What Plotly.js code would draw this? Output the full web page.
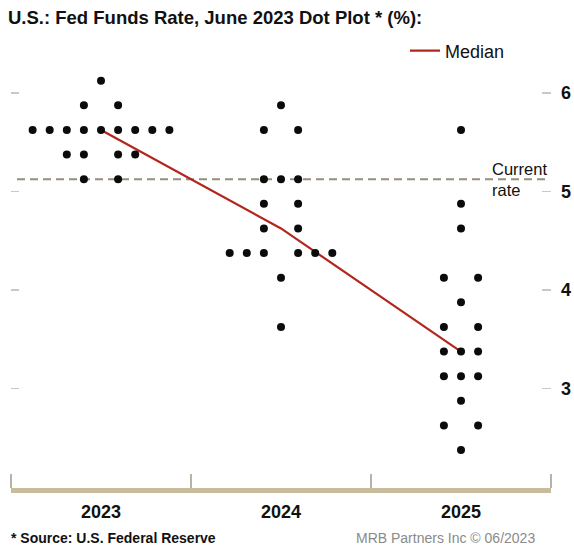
<!DOCTYPE html>
<html>
<head>
<meta charset="utf-8">
<script src="https://cdn.plot.ly/plotly-3.0.1.min.js"></script>
<style>html,body{margin:0;padding:0;background:#fff;}#chart{width:574px;height:548px;}</style>
</head>
<body>
<div id="chart"></div>
<script>
// ---- Data ----
const years = ['2023', '2024', '2025'];
// dot-plot levels (%) and number of FOMC participants at each level
const rates2023 = [6.125, 5.875, 5.625, 5.375, 5.125];
const counts2023 = [1, 2, 9, 4, 2];
const rates2024 = [5.875, 5.625, 5.125, 4.875, 4.625, 4.375, 4.125, 3.625];
const counts2024 = [1, 2, 3, 2, 2, 6, 1, 1];
const rates2025 = [5.625, 4.875, 4.625, 4.125, 3.875, 3.625, 3.375, 3.125, 2.875, 2.625, 2.375];
const counts2025 = [1, 1, 1, 2, 1, 2, 3, 3, 1, 2, 1];
const medians = [5.625, 4.625, 3.375];
const currentRate = 5.125;
const yTicks = [3, 4, 5, 6];

// ---- Build dot positions (odd counts centred, even counts split around centre) ----
const DOT_STEP = 0.095;
const dotX = [], dotY = [];
[[rates2023, counts2023], [rates2024, counts2024], [rates2025, counts2025]].forEach(([rates, counts], yi) => {
  rates.forEach((r, i) => {
    const n = counts[i];
    let offs = [];
    if (n % 2 === 1) { for (let k = -(n - 1) / 2; k <= (n - 1) / 2; k++) offs.push(k); }
    else { for (let k = 1; k <= n / 2; k++) { offs.push(-k); offs.push(k); } }
    offs.forEach(o => { dotX.push(yi + o * DOT_STEP); dotY.push(r); });
  });
});

const FONT = '"Liberation Sans", Arial, sans-serif';
const idx = years.map((_, i) => i);
const W = 574, H = 548, L = 11, R = 23, T = 60, B = 60;
const PW = W - L - R, PH = H - T - B;
const YR = [1.99, 6.335];

const traces = [
  {
    x: idx, y: medians, type: 'scatter', mode: 'lines', name: 'Median',
    line: {color: '#b3261e', width: 2.2}, showlegend: true
  },
  {
    x: dotX, y: dotY, type: 'scatter', mode: 'markers', name: 'Participants',
    marker: {color: '#0b0b0b', size: 8}, showlegend: false, hoverinfo: 'y'
  },
  {
    x: [idx[0]], y: [currentRate], yaxis: 'y2', type: 'scatter', mode: 'markers',
    marker: {opacity: 0}, showlegend: false, hoverinfo: 'skip'
  }
];

const layout = {
  width: W, height: H,
  margin: {l: L, r: R, t: T, b: B},
  paper_bgcolor: '#ffffff', plot_bgcolor: '#ffffff',
  font: {family: FONT, color: '#111'},
  title: {
    text: 'U.S.: Fed Funds Rate, June 2023 Dot Plot * (%):',
    x: 8 / W, xref: 'container', xanchor: 'left',
    y: 1 - 18 / H, yref: 'container', yanchor: 'middle',
    font: {family: FONT, size: 18.5, color: '#111', weight: 'bold'}
  },
  xaxis: {
    range: [-0.5, 2.5], tickmode: 'array', tickvals: idx, ticktext: years,
    ticks: '', showgrid: false, zeroline: false,
    showline: true, linecolor: '#c8bc9d', linewidth: 5,
    ticklabelstandoff: 3,
    tickfont: {family: FONT, size: 18, color: '#111', weight: 'bold'},
    minor: {tick0: -0.5, dtick: 1, ticks: 'inside', ticklen: 14, tickwidth: 1.2, tickcolor: '#b9b3a6', showgrid: false},
    fixedrange: true
  },
  yaxis: {
    range: YR, tickmode: 'array', tickvals: yTicks,
    side: 'right', anchor: 'x',
    ticks: 'inside', ticklen: 9, tickwidth: 1.2, tickcolor: '#c8c8c8',
    ticklabelstandoff: 9,
    showgrid: false, zeroline: false, showline: false,
    tickfont: {family: FONT, size: 18, color: '#111', weight: 'bold'},
    fixedrange: true
  },
  yaxis2: {
    range: YR, overlaying: 'y', side: 'left', anchor: 'x',
    tickmode: 'array', tickvals: yTicks,
    ticks: 'inside', ticklen: 8, tickwidth: 1.2, tickcolor: '#c8c8c8',
    showticklabels: false, showgrid: false, zeroline: false, showline: false,
    fixedrange: true
  },
  shapes: [
    {type: 'line', xref: 'paper', yref: 'y', x0: 6 / PW, x1: 539 / PW, y0: currentRate, y1: currentRate,
     line: {color: '#968e7d', width: 2, dash: '8px,5px'}, layer: 'below'}
  ],
  annotations: [
    {xref: 'paper', yref: 'y', x: (490 - L) / PW, y: currentRate, xanchor: 'left', yanchor: 'middle',
     text: 'Current<br>rate', showarrow: false, align: 'left',
     font: {family: FONT, size: 16.5, color: '#111'}},
    {xref: 'paper', yref: 'paper', x: (9 - L) / PW, y: (H - B - 538) / PH, xanchor: 'left', yanchor: 'middle',
     text: '<b>* Source: U.S. Federal Reserve</b>', showarrow: false,
     font: {family: FONT, size: 14, color: '#111'}},
    {xref: 'paper', yref: 'paper', x: (537 - L) / PW, y: (H - B - 538) / PH, xanchor: 'right', yanchor: 'middle',
     text: 'MRB Partners Inc \u00A9 06/2023', showarrow: false,
     font: {family: FONT, size: 14, color: '#8a8a8a'}}
  ],
  legend: {
    x: (405 - L) / PW, xanchor: 'left', y: 1 + (T - 51) / PH, yanchor: 'middle',
    bgcolor: 'rgba(0,0,0,0)', font: {family: FONT, size: 18, color: '#111'}
  },
  showlegend: true
};

Plotly.newPlot('chart', traces, layout, {displayModeBar: false, staticPlot: true});
</script>
</body>
</html>
